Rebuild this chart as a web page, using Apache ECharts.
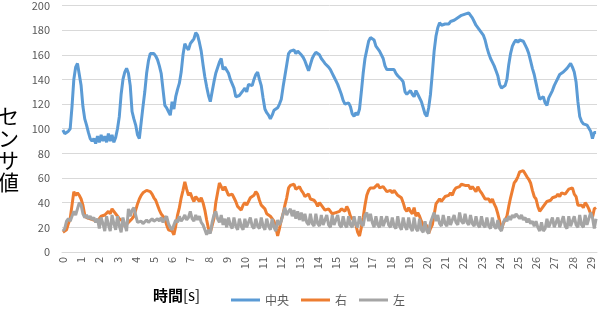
<!DOCTYPE html>
<html>
<head>
<meta charset="utf-8">
<script src="https://cdn.jsdelivr.net/npm/echarts@6/dist/echarts.min.js"></script>
<style>
  html, body { margin: 0; padding: 0; background: #fff; }
  #chart { width: 603px; height: 322px; }
</style>
</head>
<body>
<div id="chart"></div>
<script>
// 0.1秒ごとのサンプル (0.0s ～ 29.3s)
const center = [
  99, 96, 96, 98, 100, 118, 140, 150, 153, 153,
  135, 118, 108, 103, 97, 92, 90, 92, 88, 94,
  89, 95, 90, 94, 89, 96, 90, 95, 89, 93,
  100, 110, 128, 140, 146, 149, 145, 135, 114, 108,
  103, 95, 92, 105, 118, 130, 145, 155, 161, 162,
  161, 159, 156, 151, 145, 132, 119, 117, 114, 111,
  122, 116, 126, 132, 137, 146, 160, 169, 166, 164,
  169, 171, 173, 178, 176, 170, 163, 152, 142, 134,
  127, 122, 130, 138, 145, 146, 154, 157, 148, 150,
  150, 145, 140, 139, 133, 126, 125, 127, 128, 131,
  133, 130, 136, 137, 135, 140, 144, 146, 140, 135,
  125, 116, 113, 111, 108, 111, 115, 114, 117, 120,
  124, 134, 143, 152, 161, 163, 162, 164, 161, 163,
  162, 160, 158, 155, 151, 147, 152, 157, 160, 162,
  163, 160, 157, 155, 153, 152, 150, 148, 145, 142,
  139, 136, 132, 128, 123, 120, 119, 121, 118, 112,
  110, 113, 111, 116, 130, 145, 157, 164, 171, 174,
  174, 172, 167, 165, 163, 162, 157, 151, 148, 149,
  148, 147, 148, 145, 143, 143, 140, 138, 130, 128,
  127, 131, 128, 126, 131, 128, 129, 122, 117, 112,
  110, 117, 128, 145, 163, 175, 182, 186, 184, 184,
  185, 184, 185, 187, 186, 188, 187, 190, 189, 192,
  191, 193, 192, 194, 192, 190, 187, 184, 182, 180,
  178, 176, 172, 166, 161, 157, 154, 151, 147, 143,
  136, 133, 132, 135, 140, 152, 161, 167, 170, 172,
  170, 172, 173, 171, 168, 165, 161, 155, 149, 144,
  137, 130, 124, 123, 126, 121, 119, 125, 126, 131,
  135, 138, 141, 144, 145, 146, 147, 149, 150, 153,
  150, 146, 138, 122, 110, 106, 104, 104, 103, 102,
  98, 92, 97, 97
];
const right = [
  16, 15, 18, 23, 27, 38, 49, 46, 48, 46,
  43, 38, 30, 28, 29, 27, 28, 26, 27, 25,
  27, 29, 28, 30, 29, 33, 31, 35, 33, 34,
  29, 27, 28, 25, 21, 22, 24, 25, 27, 29,
  34, 39, 43, 46, 48, 49, 50, 50, 49, 47,
  44, 42, 38, 34, 31, 29, 27, 22, 18, 17,
  17, 14, 21, 30, 36, 44, 50, 57, 51, 46,
  48, 44, 41, 45, 43, 41, 44, 40, 34, 26,
  19, 16, 16, 27, 40, 48, 56, 55, 50, 53,
  52, 46, 45, 47, 44, 41, 37, 36, 34, 38,
  40, 38, 39, 44, 43, 46, 49, 47, 42, 38,
  37, 35, 31, 30, 29, 27, 25, 20, 13, 19,
  26, 31, 38, 44, 52, 54, 53, 55, 51, 52,
  53, 50, 48, 45, 46, 47, 43, 44, 42, 40,
  37, 40, 41, 36, 34, 33, 35, 33, 31, 32,
  32, 31, 33, 35, 34, 33, 37, 34, 29, 27,
  25, 22, 16, 13, 20, 28, 38, 46, 50, 52,
  53, 52, 51, 55, 52, 51, 53, 51, 49, 50,
  50, 48, 50, 49, 46, 45, 44, 40, 35, 33,
  36, 33, 31, 36, 29, 32, 29, 25, 22, 18,
  22, 15, 19, 22, 30, 39, 41, 43, 41, 40,
  45, 44, 46, 48, 46, 50, 52, 51, 53, 55,
  56, 54, 55, 54, 51, 53, 54, 49, 53, 50,
  48, 47, 43, 44, 43, 40, 43, 39, 36, 31,
  25, 18, 23, 26, 29, 37, 44, 50, 56, 58,
  61, 65, 64, 66, 65, 61, 59, 56, 50, 45,
  43, 37, 33, 35, 34, 39, 41, 40, 42, 44,
  43, 45, 47, 45, 48, 47, 47, 49, 51, 50,
  52, 47, 45, 38, 38, 38, 36, 40, 38, 35,
  31, 28, 35, 36
];
const left = [
  17, 19, 25, 27, 25, 29, 33, 30, 35, 40,
  38, 31, 28, 30, 27, 29, 26, 28, 24, 27,
  19, 28, 23, 17, 29, 22, 17, 30, 23, 18,
  29, 21, 16, 28, 22, 17, 35, 29, 34, 36,
  30, 24, 23, 25, 23, 24, 26, 24, 25, 27,
  25, 24, 27, 25, 28, 24, 27, 29, 23, 20,
  18, 22, 26, 24, 29, 25, 27, 30, 26, 28,
  33, 27, 25, 30, 26, 29, 24, 22, 18, 14,
  18, 15, 24, 30, 33, 27, 24, 30, 22, 27,
  20, 28, 22, 19, 28, 21, 18, 27, 21, 18,
  27, 20, 19, 28, 21, 19, 27, 21, 19, 28,
  21, 18, 27, 21, 18, 27, 20, 17, 26, 22,
  25, 31, 36, 30, 33, 35, 29, 34, 27, 33,
  26, 32, 25, 31, 24, 22, 31, 23, 21, 31,
  23, 21, 30, 22, 21, 30, 22, 20, 30, 22,
  21, 30, 22, 20, 29, 22, 20, 29, 22, 20,
  29, 22, 20, 29, 23, 21, 30, 32, 25, 31,
  24, 20, 29, 22, 20, 29, 21, 20, 29, 22,
  20, 28, 21, 19, 29, 21, 18, 28, 21, 18,
  28, 20, 17, 28, 19, 17, 27, 18, 16, 25,
  17, 15, 24, 28, 32, 25, 30, 23, 21, 30,
  23, 21, 29, 22, 21, 30, 24, 22, 32, 25,
  23, 31, 24, 22, 30, 23, 21, 29, 22, 20,
  29, 22, 20, 28, 21, 19, 28, 21, 19, 26,
  19, 17, 24, 27, 25, 29, 26, 30, 28, 31,
  29, 27, 30, 26, 28, 24, 27, 23, 25, 21,
  25, 20, 17, 24, 17, 19, 27, 20, 19, 28,
  20, 19, 28, 20, 19, 29, 21, 19, 29, 21,
  20, 29, 22, 20, 30, 22, 20, 30, 22, 21,
  32, 28, 19, 27
];
const samplesPerSecond = 10;
const yTicks = { min: 0, max: 200, interval: 20 };

const times = center.map((_, i) => String(i / samplesPerSecond));

const chart = echarts.init(document.getElementById('chart'), null, { renderer: 'canvas' });
const labelColor = '#595959';
const font = '"Noto Sans CJK JP", "Noto Sans", sans-serif';

chart.setOption({
  animation: false,
  textStyle: { fontFamily: font },
  grid: { left: 62, right: 6, top: 5, bottom: 70 },
  legend: {
    left: 226,
    top: 289,
    icon: 'rect',
    itemWidth: 29,
    itemHeight: 3,
    itemGap: 12,
    textStyle: { color: labelColor, fontSize: 12, fontFamily: font },
    data: ['中央', '右', '左']
  },
  graphic: [
    {
      type: 'text',
      left: -2,
      top: 105,
      style: {
        text: 'セ\nン\nサ\n値',
        font: '21px "Noto Sans CJK JP"',
        lineHeight: 22,
        fill: '#000'
      }
    },
    {
      type: 'text',
      left: 153,
      top: 288,
      style: {
        text: '{b|時間}{n|[s]}',
        rich: {
          b: { fontSize: 15, fontWeight: 'bold', fill: '#000', fontFamily: font },
          n: { fontSize: 15, fill: '#000', fontFamily: font }
        }
      }
    }
  ],
  xAxis: {
    type: 'category',
    data: times,
    boundaryGap: true,
    axisLine: { lineStyle: { color: '#d9d9d9', width: 1 } },
    axisTick: { show: false },
    axisLabel: {
      interval: (idx) => idx % samplesPerSecond === 0,
      rotate: 90,
      margin: 5,
      color: labelColor,
      fontSize: 11,
      formatter: (v) => String(Math.round(Number(v)))
    }
  },
  yAxis: {
    type: 'value',
    min: yTicks.min,
    max: yTicks.max,
    interval: yTicks.interval,
    axisLine: { show: false },
    axisTick: { show: false },
    splitLine: { lineStyle: { color: '#d9d9d9', width: 1 } },
    axisLabel: { color: labelColor, fontSize: 11, margin: 12 }
  },
  series: [
    { name: '中央', type: 'line', data: center, symbol: 'none', color: '#5B9BD5', lineStyle: { width: 3, color: '#5B9BD5' } },
    { name: '右', type: 'line', data: right, symbol: 'none', color: '#ED7D31', lineStyle: { width: 3, color: '#ED7D31' } },
    { name: '左', type: 'line', data: left, symbol: 'none', color: '#A5A5A5', lineStyle: { width: 3, color: '#A5A5A5' } }
  ]
});
window.addEventListener('resize', () => chart.resize());
</script>
</body>
</html>
